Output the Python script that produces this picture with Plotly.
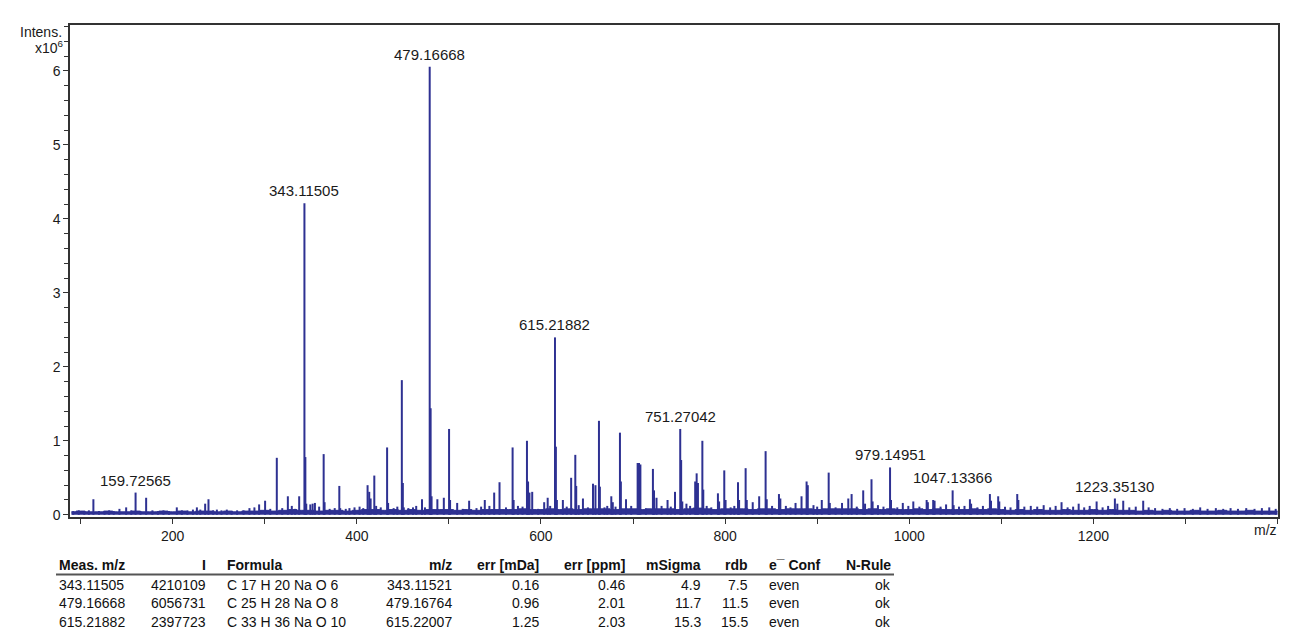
import plotly.graph_objects as go

# ---------------- data ----------------
# stick peaks: m/z and intensity (x10^6)
peak_mz = [
    92, 98, 104, 109, 113.9, 120, 126, 131, 136, 142.2, 149.5, 155, 159.72565, 165, 171.2,
    178, 184, 190, 196, 204.5, 210, 216, 222, 226.3, 230, 235.3, 238.9, 244, 248, 253,
    258.8, 264, 270, 277, 283.4, 288.8, 293.9, 300.4, 306, 313.1, 319, 325.1, 329.4, 333,
    337.4, 343.11505, 344.12, 345.1, 349.5, 352.0, 354.5, 359.1, 364.0, 365.0, 370.5, 376,
    381.0, 382.0, 388, 392, 397.5, 403.0, 407, 411.7, 413.5, 415.0, 419.0, 421.0, 426,
    432.9, 434.0, 440, 444, 448.9, 450.0, 451.0, 456, 461.0, 464.5, 470.8, 474,
    479.16668, 480.17, 481.2, 487.5, 494.5, 500.2, 501.3, 509.0, 515.0, 522.0, 530.0,
    535, 539.0, 544, 549.2, 555.0, 562.0, 569.2, 570.3, 575.0, 580, 584.8, 586.0, 587.5,
    590.5, 597.0, 603.5, 607.3, 610.0, 615.21882, 616.22, 617.3, 623.8, 628, 632.8,
    637.3, 638.3, 641.0, 645.6, 651.0, 656.5, 659.2, 663.0, 664.0, 669.0, 672, 676.4,
    678.0, 681, 685.8, 686.8, 692.4, 698.0, 705.0, 706.5, 708.0, 714.0, 721.6, 722.8,
    725.5, 731.0, 737.5, 741, 745.6, 751.27042, 752.27, 753.5, 758.0, 762, 767.5, 769.1,
    770.5, 775.3, 776.3, 780.0, 785.0, 792.2, 793.5, 799.1, 800.5, 806.0, 810, 814.0,
    815.2, 822.3, 823.5, 830.0, 837.0, 844.0, 845.2, 851.0, 858.5, 860.0, 866.0, 871.0,
    876.5, 883.0, 888.5, 889.8, 896.0, 900, 905.0, 912.5, 913.7, 920.0, 927.0, 933.8,
    937.4, 943.0, 950.0, 952.0, 959.0, 960.2, 966.0, 972.0, 979.14951, 980.2, 987.0,
    993.0, 999.0, 1004.4, 1011.0, 1018.9, 1020.2, 1026.0, 1027.5, 1034.0, 1040.0,
    1047.13366, 1048.2, 1054.0, 1060.0, 1065.9, 1067.2, 1074.0, 1080.0, 1087.6, 1088.8,
    1096.6, 1097.8, 1104.0, 1110.0, 1117.3, 1118.5, 1125.0, 1132.0, 1139.0, 1146.0,
    1153.0, 1159.0, 1165.4, 1172.0, 1178.0, 1184.0, 1190.0, 1196.0, 1203.5, 1210.0,
    1216.0, 1223.3513, 1226.0, 1232.4, 1239.0, 1246.0, 1254.1, 1260.0, 1267.0, 1275.0,
    1283.0, 1291.0, 1299.0, 1308.0, 1316.0, 1324.0, 1333.0, 1341.0, 1349.0, 1357.0,
    1366.0, 1375.0, 1383.0, 1391.0, 1398.0,
]
peak_int = [
    0.05, 0.06, 0.05, 0.06, 0.21, 0.05, 0.05, 0.06, 0.05, 0.08, 0.10, 0.06, 0.30, 0.05, 0.23,
    0.06, 0.05, 0.06, 0.05, 0.10, 0.06, 0.06, 0.07, 0.10, 0.07, 0.15, 0.21, 0.06, 0.07, 0.06,
    0.07, 0.05, 0.06, 0.06, 0.09, 0.10, 0.14, 0.19, 0.08, 0.77, 0.09, 0.25, 0.12, 0.08,
    0.25, 4.210109, 0.78, 0.15, 0.14, 0.15, 0.16, 0.11, 0.82, 0.17, 0.08, 0.09,
    0.39, 0.09, 0.08, 0.09, 0.10, 0.11, 0.09, 0.40, 0.31, 0.22, 0.53, 0.12, 0.10,
    0.91, 0.16, 0.09, 0.11, 1.82, 0.43, 0.10, 0.09, 0.10, 0.12, 0.21, 0.10,
    6.056731, 1.44, 0.25, 0.21, 0.23, 1.16, 0.20, 0.16, 0.08, 0.19, 0.09,
    0.11, 0.20, 0.12, 0.30, 0.44, 0.10, 0.91, 0.20, 0.12, 0.11, 1.00, 0.45, 0.30,
    0.31, 0.08, 0.17, 0.23, 0.12, 2.397723, 0.92, 0.20, 0.20, 0.11, 0.50,
    0.81, 0.39, 0.13, 0.22, 0.10, 0.42, 0.40, 1.27, 0.38, 0.10, 0.12, 0.25,
    0.17, 0.11, 1.11, 0.45, 0.21, 0.12, 0.70, 0.70, 0.68, 0.09, 0.62, 0.33,
    0.23, 0.12, 0.20, 0.11, 0.31, 1.16, 0.74, 0.18, 0.15, 0.12, 0.45, 0.56,
    0.43, 1.00, 0.34, 0.12, 0.10, 0.29, 0.18, 0.60, 0.20, 0.10, 0.12, 0.44,
    0.20, 0.63, 0.20, 0.17, 0.25, 0.86, 0.21, 0.12, 0.28, 0.22, 0.12, 0.10,
    0.16, 0.25, 0.45, 0.40, 0.13, 0.11, 0.20, 0.57, 0.16, 0.10, 0.16, 0.22,
    0.28, 0.11, 0.33, 0.15, 0.48, 0.18, 0.13, 0.11, 0.64, 0.20, 0.10,
    0.16, 0.12, 0.18, 0.11, 0.20, 0.17, 0.20, 0.19, 0.11, 0.14,
    0.33, 0.13, 0.11, 0.12, 0.21, 0.15, 0.10, 0.12, 0.28, 0.19,
    0.25, 0.18, 0.11, 0.10, 0.28, 0.20, 0.11, 0.12, 0.11, 0.13,
    0.10, 0.12, 0.17, 0.10, 0.11, 0.15, 0.10, 0.12, 0.18, 0.10,
    0.12, 0.22, 0.15, 0.19, 0.10, 0.11, 0.19, 0.10, 0.09, 0.08,
    0.09, 0.08, 0.09, 0.08, 0.10, 0.08, 0.09, 0.08, 0.09, 0.08,
    0.09, 0.08, 0.09, 0.10, 0.08,
]

# noise floor (x10^6), one value per 10 m/z from 90 to 1400
floor_mz = list(range(90, 1401, 10))
floor_int = [
    0.04, 0.05, 0.04, 0.04, 0.05, 0.04, 0.04, 0.05, 0.04, 0.04, 0.05,
    0.04, 0.05, 0.04, 0.05, 0.05, 0.04, 0.05, 0.04, 0.05, 0.05,
    0.06, 0.05, 0.06, 0.07, 0.06, 0.06, 0.05, 0.06, 0.06, 0.05,
    0.06, 0.07, 0.07, 0.06, 0.07, 0.06, 0.07, 0.06, 0.07, 0.07,
    0.07, 0.06, 0.07, 0.06, 0.07, 0.07, 0.07, 0.07, 0.08, 0.07,
    0.07, 0.08, 0.07, 0.08, 0.07, 0.08, 0.08, 0.08, 0.07, 0.08,
    0.08, 0.07, 0.08, 0.08, 0.08, 0.07, 0.08, 0.09, 0.08, 0.07,
    0.08, 0.08, 0.08, 0.07, 0.08, 0.08, 0.07, 0.08, 0.08, 0.08,
    0.07, 0.08, 0.08, 0.08, 0.08, 0.07, 0.08, 0.07, 0.08, 0.07,
    0.07, 0.08, 0.07, 0.08, 0.07, 0.07, 0.07, 0.08, 0.07, 0.08,
    0.07, 0.06, 0.07, 0.06, 0.07, 0.06, 0.06, 0.07, 0.06, 0.06,
    0.07, 0.06, 0.07, 0.06, 0.06, 0.05, 0.06, 0.05, 0.06, 0.05,
    0.05, 0.06, 0.05, 0.05, 0.06, 0.05, 0.05, 0.06, 0.05, 0.05, 0.05,
]

# labelled peaks
label_mz = [159.72565, 343.11505, 479.16668, 615.21882, 751.27042, 979.14951, 1047.13366, 1223.35130]
label_int = [0.30, 4.210109, 6.056731, 2.397723, 1.16, 0.64, 0.33, 0.22]
label_text = ["159.72565", "343.11505", "479.16668", "615.21882", "751.27042",
              "979.14951", "1047.13366", "1223.35130"]

x_ticks = [200, 400, 600, 800, 1000, 1200]
y_ticks = [0, 1, 2, 3, 4, 5, 6]

# results table
table_header = ["Meas. m/z", "I", "Formula", "m/z", "err [mDa]", "err [ppm]",
                "mSigma", "rdb", "e\u00af Conf", "N-Rule"]
meas_mz = ["343.11505", "479.16668", "615.21882"]
meas_I = ["4210109", "6056731", "2397723"]
formula = ["C 17 H 20 Na O 6", "C 25 H 28 Na O 8", "C 33 H 36 Na O 10"]
calc_mz = ["343.11521", "479.16764", "615.22007"]
err_mda = ["0.16", "0.96", "1.25"]
err_ppm = ["0.46", "2.01", "2.03"]
msigma = ["4.9", "11.7", "15.3"]
rdb = ["7.5", "11.5", "15.5"]
e_conf = ["even", "even", "even"]
n_rule = ["ok", "ok", "ok"]

# ---------------- figure ----------------
BLUE = "#2E3192"
FONT = "Liberation Sans, Arial, sans-serif"
TXT = "#1a1a1a"

OFF = 8  # page body margin
# plot area in page pixels
L, R, T, B = 70, 1278, 25, 517
W, H = 1291, 626


def px(x):
    return (x - L) / (R - L)


def py(y):
    return (B - y) / (B - T)


sx, sy = [], []
for m, v in zip(peak_mz, peak_int):
    sx += [m, m, None]
    sy += [0, v, None]

fig = go.Figure()
fig.add_trace(go.Scatter(x=floor_mz, y=floor_int, mode="lines", line=dict(color=BLUE, width=1, shape="hvh"),
                         fill="tozeroy", fillcolor=BLUE, hoverinfo="skip", showlegend=False))
fig.add_trace(go.Scatter(x=sx, y=sy, mode="lines", line=dict(color=BLUE, width=2),
                         hoverinfo="skip", showlegend=False))

annotations = []
for m, v, t in zip(label_mz, label_int, label_text):
    annotations.append(dict(x=m, y=v, xref="x", yref="y", text=t, showarrow=False,
                            xanchor="center", yanchor="bottom", yshift=2,
                            font=dict(family=FONT, size=15, color=TXT)))

annotations.append(dict(x=px(64), y=py(32), xref="paper", yref="paper", text="Intens.",
                        showarrow=False, xanchor="right", yanchor="middle",
                        font=dict(family=FONT, size=14, color=TXT)))
annotations.append(dict(x=px(66), y=py(47), xref="paper", yref="paper", text="x10<sup>6</sup>",
                        showarrow=False, xanchor="right", yanchor="middle",
                        font=dict(family=FONT, size=14, color=TXT)))
annotations.append(dict(x=px(1265), y=py(530), xref="paper", yref="paper", text="m/z",
                        showarrow=False, xanchor="center", yanchor="middle",
                        font=dict(family=FONT, size=14, color=TXT)))

col_x = [57, 208, 225, 454, 541, 627, 703, 750, 767, 893]
col_anchor = ["left", "right", "left", "right", "right", "right", "right", "right", "left", "right"]
columns = [meas_mz, meas_I, formula, calc_mz, err_mda, err_ppm, msigma, rdb, e_conf, n_rule]
header_y = 565
row_y = [584.5, 603, 621.5]
for h, cx, anc in zip(table_header, col_x, col_anchor):
    annotations.append(dict(x=px(cx), y=py(header_y), xref="paper", yref="paper",
                            text="<b>" + h + "</b>", showarrow=False, xanchor=anc, yanchor="middle",
                            font=dict(family=FONT, size=14, color="#111")))
for col, cx, anc in zip(columns, col_x, col_anchor):
    for val, ry in zip(col, row_y):
        annotations.append(dict(x=px(cx), y=py(ry), xref="paper", yref="paper",
                                text=val, showarrow=False, xanchor=anc, yanchor="middle",
                                font=dict(family=FONT, size=14, color="#111")))

shapes = [dict(type="line", xref="paper", yref="paper", x0=px(56), x1=px(894),
               y0=py(574.5), y1=py(574.5), line=dict(color="#555", width=2))]

fig.update_layout(
    width=W, height=H,
    margin=dict(l=L - OFF, r=W - (R - OFF), t=T - OFF, b=H - (B - OFF), pad=0),
    paper_bgcolor="white", plot_bgcolor="white",
    annotations=annotations, shapes=shapes,
    font=dict(family=FONT, size=14, color=TXT),
    xaxis=dict(range=[88.5, 1400.5], tickvals=x_ticks, ticktext=[str(v) for v in x_ticks],
               showgrid=False, zeroline=False, showline=True, linecolor="#333", linewidth=1.5,
               mirror=True, ticks="outside", ticklen=5, tickcolor="#333",
               minor=dict(dtick=100, tick0=0, ticks="outside", ticklen=5, tickcolor="#333"),
               tickfont=dict(family=FONT, size=14, color=TXT)),
    yaxis=dict(range=[-0.03, 6.62], tickvals=y_ticks, ticktext=[str(v) for v in y_ticks],
               showgrid=False, zeroline=False, showline=True, linecolor="#333", linewidth=1.5,
               mirror=True, ticks="outside", ticklen=5, tickcolor="#333",
               minor=dict(dtick=0.2, tick0=0, ticks="outside", ticklen=4, tickcolor="#333"),
               tickfont=dict(family=FONT, size=14, color=TXT)),
)

fig.write_html("out.html")
